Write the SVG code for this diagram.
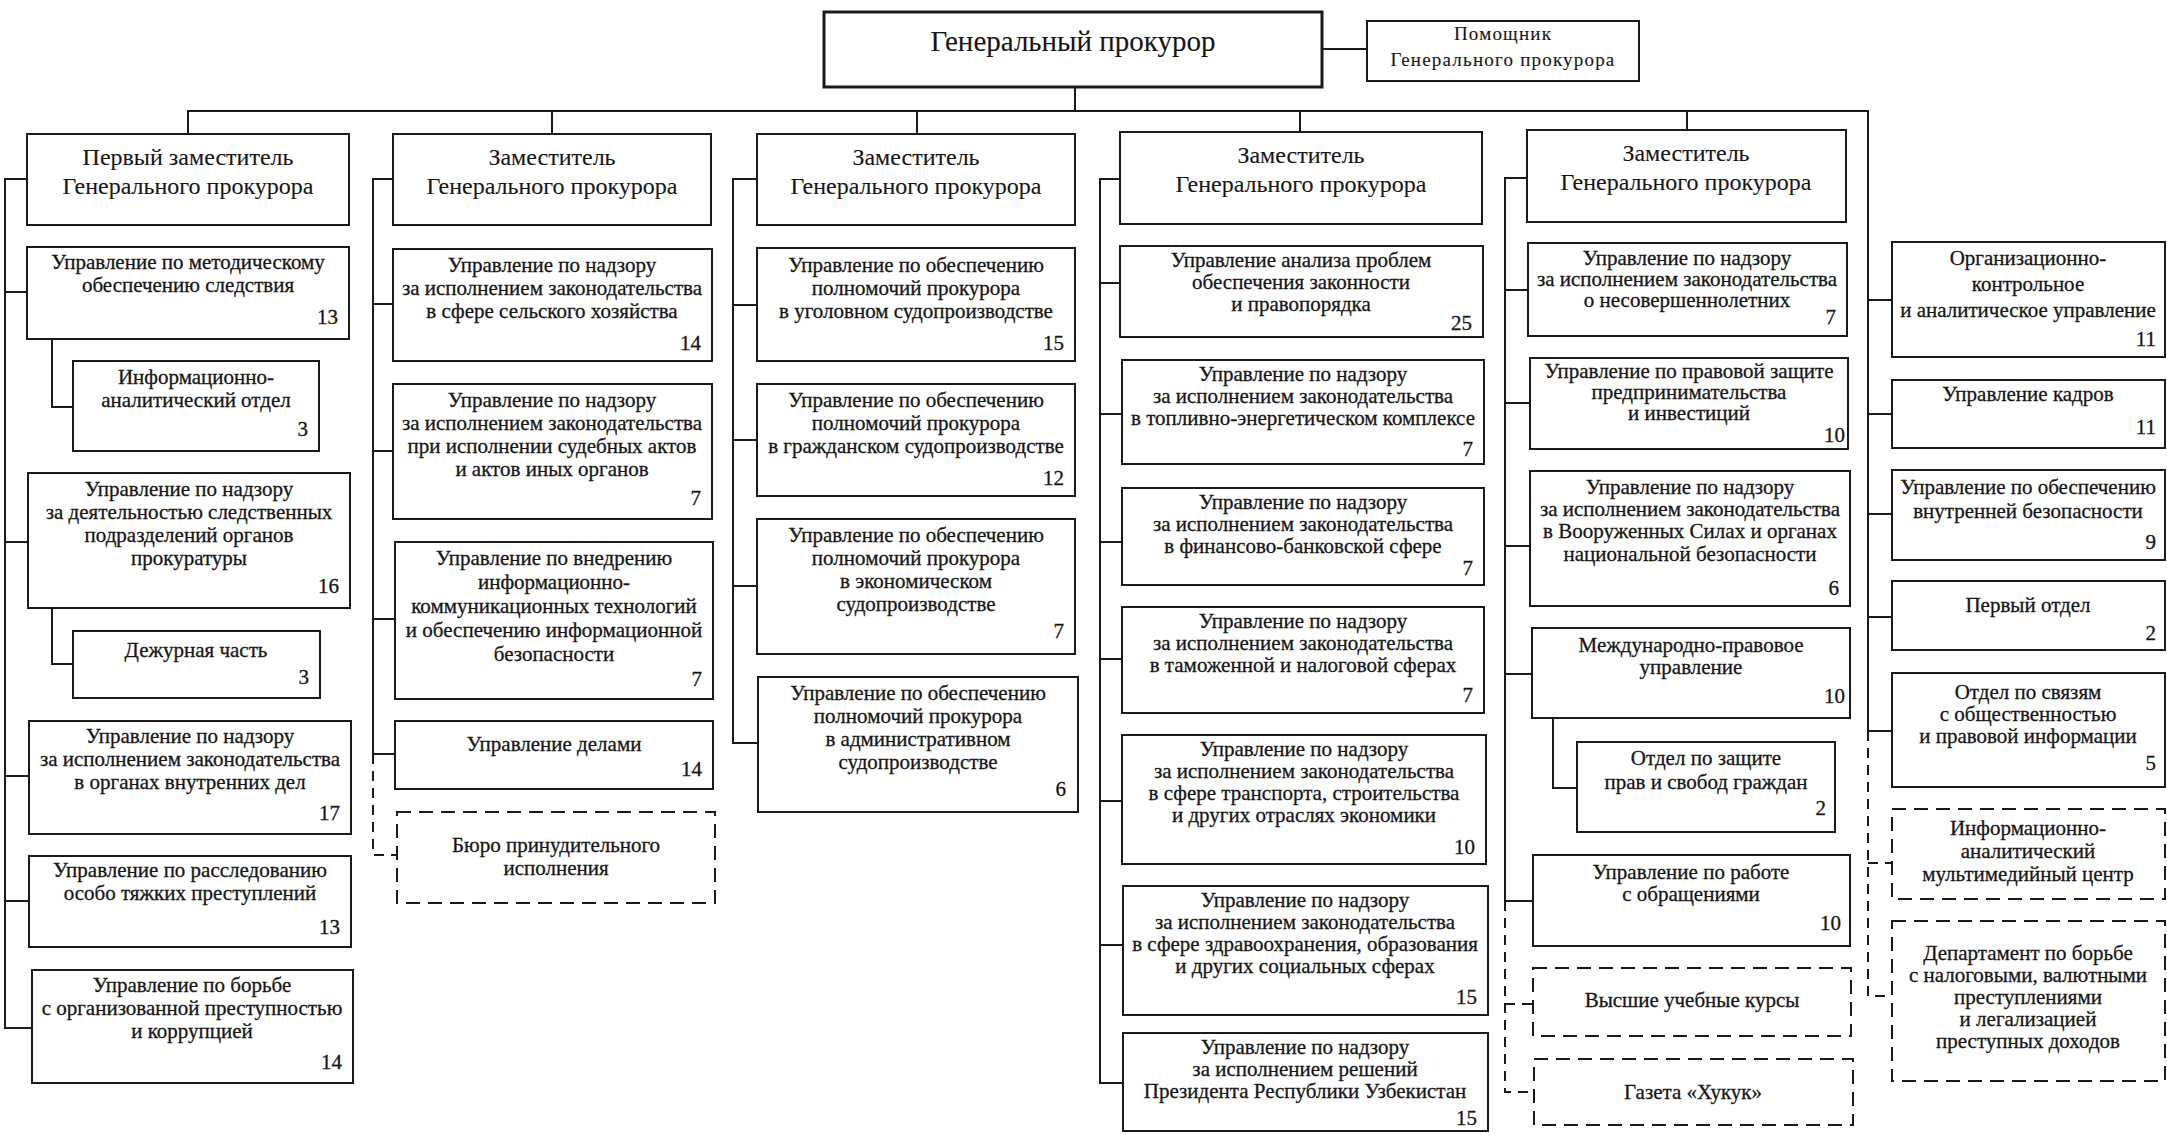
<svg xmlns="http://www.w3.org/2000/svg" width="2167" height="1135" viewBox="0 0 2167 1135">
<style>
.bg{fill:#ffffff}
.box{fill:#ffffff;stroke:#1a1a1a;stroke-width:2}
.gp{fill:#ffffff;stroke:#1a1a1a;stroke-width:3}
.dbox{fill:#ffffff;stroke:#1a1a1a;stroke-width:2;stroke-dasharray:14 8}
.ln{fill:none;stroke:#1a1a1a;stroke-width:2}
.dl{fill:none;stroke:#1a1a1a;stroke-width:2;stroke-dasharray:10 7}
text{font-family:"Liberation Serif","Times New Roman",serif;fill:#161616;stroke:#161616;stroke-width:0.3}
.t{font-size:21px;text-anchor:middle}
.n{font-size:21px;text-anchor:end}
.d{font-size:24px;text-anchor:middle;stroke-width:0.1}
.g{font-size:29px;text-anchor:middle;stroke-width:0.1}
.a{font-size:19px;text-anchor:middle;letter-spacing:1.2px;stroke-width:0.1}
</style>
<rect class="bg" x="0" y="0" width="2167" height="1135"/>
<g id="connectors">
<path class="ln" d="M1322,49H1367 M1075,87V111 M188,134V111H1868V731 M552,111V134 M917,111V134 M1300,111V132 M1687,111V130"/>
<path class="dl" d="M1868,731V996H1892 M1868,863H1892"/>
<path class="ln" d="M1868,300H1892 M1868,414H1892 M1868,514H1892 M1868,617H1892 M1868,731H1892"/>
<path class="ln" d="M27,179H5V1028H32 M5,292H27 M5,542H28 M5,776H29 M5,901H29 M52,339V407H73 M52,608V664H73"/>
<path class="ln" d="M393,179H373V754H395 M373,304H393 M373,451H393 M373,619H395"/>
<path class="dl" d="M373,754V855H397"/>
<path class="ln" d="M757,179H733V743H758 M733,305H757 M733,440H757 M733,586H757"/>
<path class="ln" d="M1120,179H1100V1083H1122 M1100,283H1120 M1100,414H1122 M1100,542H1122 M1100,659H1122 M1100,801H1122 M1100,945H1123"/>
<path class="ln" d="M1527,178H1505V901H1533 M1505,290H1528 M1505,403H1530 M1505,546H1530 M1505,674H1532 M1553,718V788H1577"/>
<path class="dl" d="M1505,901V1092H1534 M1505,1004H1533"/>
</g>

<g id="gp"><rect class="gp" x="824" y="12" width="498" height="75"/><text class="g" x="1073" y="51">Генеральный прокурор</text></g>
<g id="pomoshnik"><rect class="box" x="1367" y="21" width="272" height="60"/><text class="a" x="1503" y="40">Помощник</text><text class="a" x="1503" y="66">Генерального прокурора</text></g>

<g id="dep1"><rect class="box" x="27" y="134" width="322" height="91"/><text class="d" x="188" y="165">Первый заместитель</text><text class="d" x="188" y="194">Генерального прокурора</text></g>
<g id="c1b1"><rect class="box" x="27" y="247" width="322" height="92"/><text class="t" x="188" y="269">Управление по методическому</text><text class="t" x="188" y="292">обеспечению следствия</text><text class="n" x="338" y="324">13</text></g>
<g id="c1b1a"><rect class="box" x="73" y="361" width="246" height="90"/><text class="t" x="196" y="384">Информационно-</text><text class="t" x="196" y="407">аналитический отдел</text><text class="n" x="308" y="436">3</text></g>
<g id="c1b2"><rect class="box" x="28" y="473" width="322" height="135"/><text class="t" x="189" y="496">Управление по надзору</text><text class="t" x="189" y="519">за деятельностью следственных</text><text class="t" x="189" y="542">подразделений органов</text><text class="t" x="189" y="565">прокуратуры</text><text class="n" x="339" y="593">16</text></g>
<g id="c1b2a"><rect class="box" x="73" y="631" width="247" height="67"/><text class="t" x="196" y="657">Дежурная часть</text><text class="n" x="309" y="684">3</text></g>
<g id="c1b3"><rect class="box" x="29" y="721" width="322" height="113"/><text class="t" x="190" y="743">Управление по надзору</text><text class="t" x="190" y="766">за исполнением законодательства</text><text class="t" x="190" y="789">в органах внутренних дел</text><text class="n" x="340" y="820">17</text></g>
<g id="c1b4"><rect class="box" x="29" y="856" width="322" height="91"/><text class="t" x="190" y="877">Управление по расследованию</text><text class="t" x="190" y="900">особо тяжких преступлений</text><text class="n" x="340" y="934">13</text></g>
<g id="c1b5"><rect class="box" x="32" y="970" width="321" height="113"/><text class="t" x="192" y="992">Управление по борьбе</text><text class="t" x="192" y="1015">с организованной преступностью</text><text class="t" x="192" y="1038">и коррупцией</text><text class="n" x="342" y="1069">14</text></g>

<g id="dep2"><rect class="box" x="393" y="134" width="318" height="91"/><text class="d" x="552" y="165">Заместитель</text><text class="d" x="552" y="194">Генерального прокурора</text></g>
<g id="c2b1"><rect class="box" x="393" y="249" width="319" height="112"/><text class="t" x="552" y="272">Управление по надзору</text><text class="t" x="552" y="295">за исполнением законодательства</text><text class="t" x="552" y="318">в сфере сельского хозяйства</text><text class="n" x="701" y="350">14</text></g>
<g id="c2b2"><rect class="box" x="393" y="384" width="319" height="135"/><text class="t" x="552" y="407">Управление по надзору</text><text class="t" x="552" y="430">за исполнением законодательства</text><text class="t" x="552" y="453">при исполнении судебных актов</text><text class="t" x="552" y="476">и актов иных органов</text><text class="n" x="701" y="505">7</text></g>
<g id="c2b3"><rect class="box" x="395" y="542" width="318" height="157"/><text class="t" x="554" y="565">Управление по внедрению</text><text class="t" x="554" y="589">информационно-</text><text class="t" x="554" y="613">коммуникационных технологий</text><text class="t" x="554" y="637">и обеспечению информационной</text><text class="t" x="554" y="661">безопасности</text><text class="n" x="702" y="686">7</text></g>
<g id="c2b4"><rect class="box" x="395" y="721" width="318" height="68"/><text class="t" x="554" y="751">Управление делами</text><text class="n" x="702" y="776">14</text></g>
<g id="c2b5"><rect class="dbox" x="397" y="812" width="318" height="91"/><text class="t" x="556" y="852">Бюро принудительного</text><text class="t" x="556" y="875">исполнения</text></g>

<g id="dep3"><rect class="box" x="757" y="134" width="318" height="91"/><text class="d" x="916" y="165">Заместитель</text><text class="d" x="916" y="194">Генерального прокурора</text></g>
<g id="c3b1"><rect class="box" x="757" y="248" width="318" height="113"/><text class="t" x="916" y="272">Управление по обеспечению</text><text class="t" x="916" y="295">полномочий прокурора</text><text class="t" x="916" y="318">в уголовном судопроизводстве</text><text class="n" x="1064" y="350">15</text></g>
<g id="c3b2"><rect class="box" x="757" y="384" width="318" height="112"/><text class="t" x="916" y="407">Управление по обеспечению</text><text class="t" x="916" y="430">полномочий прокурора</text><text class="t" x="916" y="453">в гражданском судопроизводстве</text><text class="n" x="1064" y="485">12</text></g>
<g id="c3b3"><rect class="box" x="757" y="519" width="318" height="135"/><text class="t" x="916" y="542">Управление по обеспечению</text><text class="t" x="916" y="565">полномочий прокурора</text><text class="t" x="916" y="588">в экономическом</text><text class="t" x="916" y="611">судопроизводстве</text><text class="n" x="1064" y="638">7</text></g>
<g id="c3b4"><rect class="box" x="758" y="677" width="320" height="135"/><text class="t" x="918" y="700">Управление по обеспечению</text><text class="t" x="918" y="723">полномочий прокурора</text><text class="t" x="918" y="746">в административном</text><text class="t" x="918" y="769">судопроизводстве</text><text class="n" x="1066" y="796">6</text></g>

<g id="dep4"><rect class="box" x="1120" y="132" width="362" height="92"/><text class="d" x="1301" y="163">Заместитель</text><text class="d" x="1301" y="192">Генерального прокурора</text></g>
<g id="c4b1"><rect class="box" x="1120" y="246" width="363" height="91"/><text class="t" x="1301" y="267">Управление анализа проблем</text><text class="t" x="1301" y="289">обеспечения законности</text><text class="t" x="1301" y="311">и правопорядка</text><text class="n" x="1472" y="330">25</text></g>
<g id="c4b2"><rect class="box" x="1122" y="360" width="362" height="104"/><text class="t" x="1303" y="381">Управление по надзору</text><text class="t" x="1303" y="403">за исполнением законодательства</text><text class="t" x="1303" y="425">в топливно-энергетическом комплексе</text><text class="n" x="1473" y="456">7</text></g>
<g id="c4b3"><rect class="box" x="1122" y="488" width="362" height="97"/><text class="t" x="1303" y="509">Управление по надзору</text><text class="t" x="1303" y="531">за исполнением законодательства</text><text class="t" x="1303" y="553">в финансово-банковской сфере</text><text class="n" x="1473" y="575">7</text></g>
<g id="c4b4"><rect class="box" x="1122" y="607" width="362" height="106"/><text class="t" x="1303" y="628">Управление по надзору</text><text class="t" x="1303" y="650">за исполнением законодательства</text><text class="t" x="1303" y="672">в таможенной и налоговой сферах</text><text class="n" x="1473" y="702">7</text></g>
<g id="c4b5"><rect class="box" x="1122" y="735" width="364" height="129"/><text class="t" x="1304" y="756">Управление по надзору</text><text class="t" x="1304" y="778">за исполнением законодательства</text><text class="t" x="1304" y="800">в сфере транспорта, строительства</text><text class="t" x="1304" y="822">и других отраслях экономики</text><text class="n" x="1475" y="854">10</text></g>
<g id="c4b6"><rect class="box" x="1123" y="886" width="365" height="129"/><text class="t" x="1305" y="907">Управление по надзору</text><text class="t" x="1305" y="929">за исполнением законодательства</text><text class="t" x="1305" y="951">в сфере здравоохранения, образования</text><text class="t" x="1305" y="973">и других социальных сферах</text><text class="n" x="1477" y="1004">15</text></g>
<g id="c4b7"><rect class="box" x="1123" y="1033" width="365" height="98"/><text class="t" x="1305" y="1054">Управление по надзору</text><text class="t" x="1305" y="1076">за исполнением решений</text><text class="t" x="1305" y="1098">Президента Республики Узбекистан</text><text class="n" x="1477" y="1125">15</text></g>

<g id="dep5"><rect class="box" x="1527" y="130" width="319" height="92"/><text class="d" x="1686" y="161">Заместитель</text><text class="d" x="1686" y="190">Генерального прокурора</text></g>
<g id="c5b1"><rect class="box" x="1528" y="243" width="319" height="93"/><text class="t" x="1687" y="265">Управление по надзору</text><text class="t" x="1687" y="286">за исполнением законодательства</text><text class="t" x="1687" y="307">о несовершеннолетних</text><text class="n" x="1836" y="324">7</text></g>
<g id="c5b2"><rect class="box" x="1530" y="358" width="318" height="91"/><text class="t" x="1689" y="378">Управление по правовой защите</text><text class="t" x="1689" y="399">предпринимательства</text><text class="t" x="1689" y="420">и инвестиций</text><text class="n" x="1845" y="442">10</text></g>
<g id="c5b3"><rect class="box" x="1530" y="471" width="320" height="135"/><text class="t" x="1690" y="494">Управление по надзору</text><text class="t" x="1690" y="516">за исполнением законодательства</text><text class="t" x="1690" y="538">в Вооруженных Силах и органах</text><text class="t" x="1690" y="561">национальной безопасности</text><text class="n" x="1839" y="595">6</text></g>
<g id="c5b4"><rect class="box" x="1532" y="628" width="318" height="90"/><text class="t" x="1691" y="652">Международно-правовое</text><text class="t" x="1691" y="674">управление</text><text class="n" x="1845" y="703">10</text></g>
<g id="c5b4a"><rect class="box" x="1577" y="742" width="258" height="90"/><text class="t" x="1706" y="765">Отдел по защите</text><text class="t" x="1706" y="789">прав и свобод граждан</text><text class="n" x="1826" y="815">2</text></g>
<g id="c5b5"><rect class="box" x="1533" y="855" width="317" height="91"/><text class="t" x="1691" y="879">Управление по работе</text><text class="t" x="1691" y="901">с обращениями</text><text class="n" x="1841" y="930">10</text></g>
<g id="c5b6"><rect class="dbox" x="1533" y="968" width="318" height="68"/><text class="t" x="1692" y="1007">Высшие учебные курсы</text></g>
<g id="c5b7"><rect class="dbox" x="1534" y="1059" width="319" height="66"/><text class="t" x="1693" y="1099">Газета «Хукук»</text></g>

<g id="c6b1"><rect class="box" x="1892" y="242" width="273" height="115"/><text class="t" x="2028" y="265">Организационно-</text><text class="t" x="2028" y="291">контрольное</text><text class="t" x="2028" y="317">и аналитическое управление</text><text class="n" x="2156" y="346">11</text></g>
<g id="c6b2"><rect class="box" x="1892" y="380" width="273" height="68"/><text class="t" x="2028" y="401">Управление кадров</text><text class="n" x="2156" y="434">11</text></g>
<g id="c6b3"><rect class="box" x="1892" y="470" width="273" height="90"/><text class="t" x="2028" y="494">Управление по обеспечению</text><text class="t" x="2028" y="518">внутренней безопасности</text><text class="n" x="2156" y="549">9</text></g>
<g id="c6b4"><rect class="box" x="1892" y="581" width="273" height="69"/><text class="t" x="2028" y="612">Первый отдел</text><text class="n" x="2156" y="640">2</text></g>
<g id="c6b5"><rect class="box" x="1892" y="673" width="273" height="114"/><text class="t" x="2028" y="699">Отдел по связям</text><text class="t" x="2028" y="721">с общественностью</text><text class="t" x="2028" y="743">и правовой информации</text><text class="n" x="2156" y="770">5</text></g>
<g id="c6b6"><rect class="dbox" x="1892" y="809" width="273" height="90"/><text class="t" x="2028" y="835">Информационно-</text><text class="t" x="2028" y="858">аналитический</text><text class="t" x="2028" y="881">мультимедийный центр</text></g>
<g id="c6b7"><rect class="dbox" x="1892" y="921" width="273" height="160"/><text class="t" x="2028" y="960">Департамент по борьбе</text><text class="t" x="2028" y="982">с налоговыми, валютными</text><text class="t" x="2028" y="1004">преступлениями</text><text class="t" x="2028" y="1026">и легализацией</text><text class="t" x="2028" y="1048">преступных доходов</text></g>
</svg>
